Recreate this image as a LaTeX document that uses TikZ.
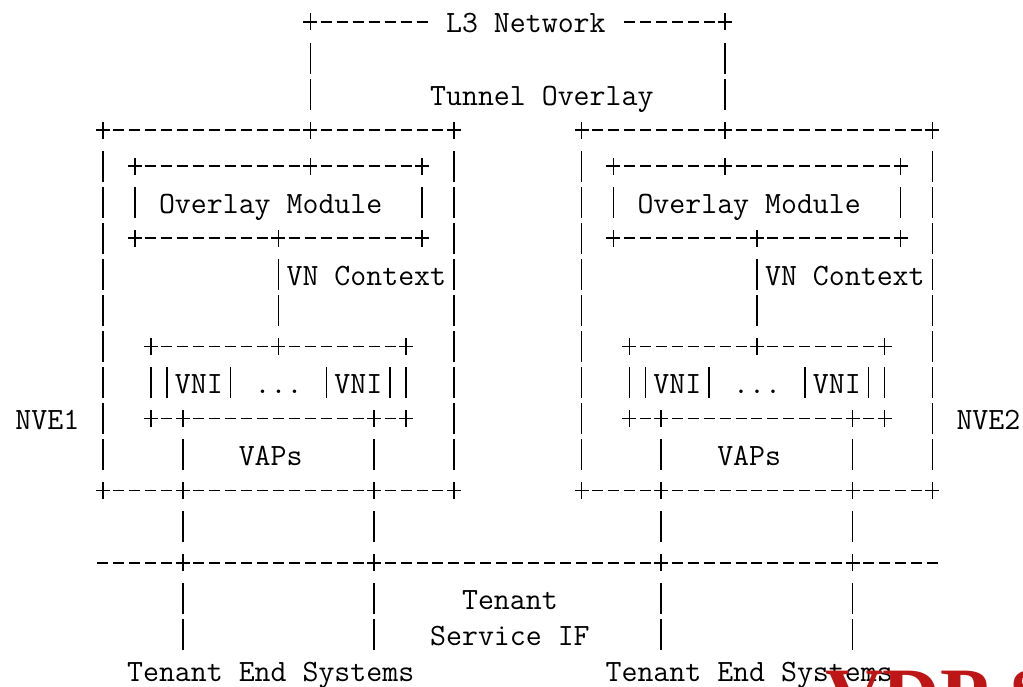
\documentclass[tikz,border=0pt]{standalone}
\usepackage{fontspec}
\newfontfamily\wmfont{Liberation Serif}
\newlength\chw
\settowidth\chw{\fontsize{30pt}{36pt}\selectfont\ttfamily M}
\pgfmathsetmacro\fsz{30*15.95/\chw}
\newcommand\af{\fontsize{\fsz pt}{36pt}\selectfont\ttfamily}
\definecolor{wmred}{RGB}{190,22,22}
\tikzset{
  asc/.style={line width=1.6pt, black},
  txt/.style={font=\af, inner sep=0pt, anchor=base west, yshift=-11pt},
}
% plus sign at (row, col)
\newcommand\pl[2]{\draw[asc] (#2,#1) ++(-7pt,0) -- ++(14pt,0) (#2,#1) ++(0,-8.5pt) -- ++(0,17pt);}
% dashes on row #1 from col #2 to col #3
\newcommand\hd[3]{\foreach \hcol in {#2,...,#3}{\draw[asc] (\hcol,#1) ++(-5.5pt,0) -- ++(11pt,0);}}
% vertical bar at (row, col)
\newcommand\vb[2]{\draw[asc] (#2,#1) ++(0,-15.5pt) -- ++(0,31pt);}
% text: name, row, first col, text
\newcommand\tx[4]{\node[txt] (#1) at (#3-0.5,#2) {#4};}
\begin{document}
\begin{tikzpicture}[x=15.95pt, y=-36.05pt]
\useasboundingbox (-103pt,22pt) rectangle (920pt,-665pt);
% row 0
\pl{0}{13}\hd{0}{14}{20}\tx{l3}{0}{22}{L3 Network}\hd{0}{33}{38}\pl{0}{39}
% row 1-2
\vb{1}{13}\vb{1}{39}
\vb{2}{13}\tx{tunnel}{2}{21}{Tunnel Overlay}\vb{2}{39}
% row 3
\pl{3}{0}\hd{3}{1}{12}\pl{3}{13}\hd{3}{14}{21}\pl{3}{22}
\pl{3}{30}\hd{3}{31}{38}\pl{3}{39}\hd{3}{40}{51}\pl{3}{52}
% row 4
\vb{4}{0}\pl{4}{2}\hd{4}{3}{12}\pl{4}{13}\hd{4}{14}{19}\pl{4}{20}\vb{4}{22}
\vb{4}{30}\pl{4}{32}\hd{4}{33}{38}\pl{4}{39}\hd{4}{40}{49}\pl{4}{50}\vb{4}{52}
% row 5
\vb{5}{0}\vb{5}{2}\tx{om1}{5}{4}{Overlay Module}\vb{5}{20}\vb{5}{22}
\vb{5}{30}\vb{5}{32}\tx{om2}{5}{34}{Overlay Module}\vb{5}{50}\vb{5}{52}
% row 6
\vb{6}{0}\pl{6}{2}\hd{6}{3}{10}\pl{6}{11}\hd{6}{12}{19}\pl{6}{20}\vb{6}{22}
\vb{6}{30}\pl{6}{32}\hd{6}{33}{40}\pl{6}{41}\hd{6}{42}{49}\pl{6}{50}\vb{6}{52}
% row 7
\vb{7}{0}\vb{7}{11}\tx{vnc1}{7}{12}{VN Context}\vb{7}{22}
\vb{7}{30}\vb{7}{41}\tx{vnc2}{7}{42}{VN Context}\vb{7}{52}
% row 8
\vb{8}{0}\vb{8}{11}\vb{8}{22}
\vb{8}{30}\vb{8}{41}\vb{8}{52}
% row 9
\vb{9}{0}\pl{9}{3}\hd{9}{4}{10}\pl{9}{11}\hd{9}{12}{18}\pl{9}{19}\vb{9}{22}
\vb{9}{30}\pl{9}{33}\hd{9}{34}{40}\pl{9}{41}\hd{9}{42}{48}\pl{9}{49}\vb{9}{52}
% row 10
\vb{10}{0}\vb{10}{3}\vb{10}{4}\tx{vni1a}{10}{5}{VNI}\vb{10}{8}\tx{dots1}{10}{10}{...}
\vb{10}{14}\tx{vni1b}{10}{15}{VNI}\vb{10}{18}\vb{10}{19}\vb{10}{22}
\vb{10}{30}\vb{10}{33}\vb{10}{34}\tx{vni2a}{10}{35}{VNI}\vb{10}{38}\tx{dots2}{10}{40}{...}
\vb{10}{44}\tx{vni2b}{10}{45}{VNI}\vb{10}{48}\vb{10}{49}\vb{10}{52}
% row 11
\tx{nve1}{11}{-5}{NVE1}
\vb{11}{0}\pl{11}{3}\hd{11}{4}{4}\pl{11}{5}\hd{11}{6}{16}\pl{11}{17}\hd{11}{18}{18}\pl{11}{19}\vb{11}{22}
\vb{11}{30}\pl{11}{33}\hd{11}{34}{34}\pl{11}{35}\hd{11}{36}{46}\pl{11}{47}\hd{11}{48}{48}\pl{11}{49}\vb{11}{52}
\tx{nve2}{11}{54}{NVE2}
% row 12
\vb{12}{0}\vb{12}{5}\tx{vaps1}{12}{9}{VAPs}\vb{12}{17}\vb{12}{22}
\vb{12}{30}\vb{12}{35}\tx{vaps2}{12}{39}{VAPs}\vb{12}{47}\vb{12}{52}
% row 13
\pl{13}{0}\hd{13}{1}{4}\pl{13}{5}\hd{13}{6}{16}\pl{13}{17}\hd{13}{18}{21}\pl{13}{22}
\pl{13}{30}\hd{13}{31}{34}\pl{13}{35}\hd{13}{36}{46}\pl{13}{47}\hd{13}{48}{51}\pl{13}{52}
% row 14
\vb{14}{5}\vb{14}{17}\vb{14}{35}\vb{14}{47}
% row 15
\hd{15}{0}{4}\pl{15}{5}\hd{15}{6}{16}\pl{15}{17}\hd{15}{18}{34}\pl{15}{35}\hd{15}{36}{46}\pl{15}{47}\hd{15}{48}{52}
% row 16-17
\vb{16}{5}\vb{16}{17}\tx{tenant}{16}{23}{Tenant}\vb{16}{35}\vb{16}{47}
\vb{17}{5}\vb{17}{17}\tx{svcif}{17}{21}{Service IF}\vb{17}{35}\vb{17}{47}
% row 18
\tx{tes1}{18}{2}{Tenant End Systems}
\tx{tes2}{18}{32}{Tenant End Systems}
% watermark, cut off by the lower edge
\begin{scope}
\clip (-103pt,22pt) rectangle (920pt,-665pt);
\node[font=\wmfont\bfseries\fontsize{80pt}{90pt}\selectfont, text=wmred, inner sep=0pt, anchor=base west] (wm) at (722pt,-701pt) {VDP S};
\end{scope}
\end{tikzpicture}
\end{document}
